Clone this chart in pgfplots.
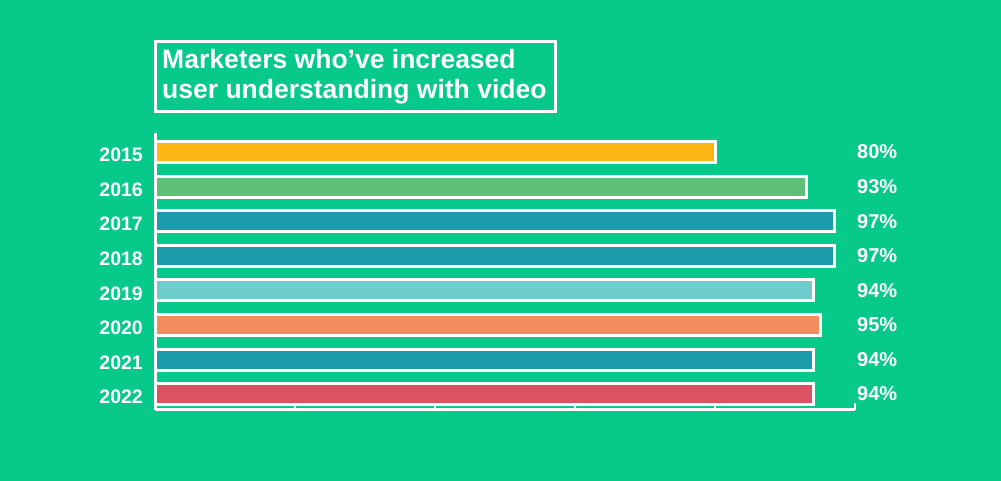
\documentclass[border=0pt]{standalone}
\usepackage{pgfplots}
\pgfplotsset{compat=1.18}
\usepackage{fontspec}
\setmainfont{Liberation Sans}
\definecolor{bgcol}{RGB}{6,201,138}
\definecolor{cyel}{RGB}{253,183,20}
\definecolor{cgrn}{RGB}{96,191,118}
\definecolor{cteal}{RGB}{27,155,170}
\definecolor{clteal}{RGB}{110,204,204}
\definecolor{corg}{RGB}{242,140,92}
\definecolor{cred}{RGB}{219,82,99}
\begin{document}
\begin{tikzpicture}
\fill[bgcol] (0pt,0pt) rectangle (1001pt,481pt);
\useasboundingbox (0pt,0pt) rectangle (1001pt,481pt);
\draw[white, line width=3pt] (155.5pt,439.5pt) rectangle (555.5pt,369.5pt);
\node[anchor=base west, inner sep=0pt, white, font=\fontsize{26.5}{30}\selectfont\bfseries] at (162pt,412pt) {Marketers who’ve increased};
\node[anchor=base west, inner sep=0pt, white, font=\fontsize{26.5}{30}\selectfont\bfseries] at (162pt,382pt) {user understanding with video};
\begin{axis}[
  at={(155pt,71pt)}, anchor=south west,
  width=700pt, height=277pt, scale only axis,
  xmin=0, xmax=100, ymin=-0.46, ymax=7.55,
  axis x line*=bottom, axis y line*=left,
  axis line style={white, line width=3pt, -},
  xtick={20,40,60,80,100}, xticklabels={},
  tick align=inside, major tick length=7pt,
  x tick style={white, line width=2.5pt},
  ytick={0,1,2,3,4,5,6,7},
  yticklabels={2022,2021,2020,2019,2018,2017,2016,2015},
  y tick style={draw=none},
  yticklabel style={font=\fontsize{19.5}{20}\selectfont\bfseries, text=white, inner sep=0pt, anchor=east, xshift=-12pt, yshift=-3pt},
  bar width=21pt,
  clip=false,
]
\addplot[xbar, bar shift=0pt, fill=cyel, draw=white, line width=3pt] coordinates {(80,7)};
\addplot[xbar, bar shift=0pt, fill=cgrn, draw=white, line width=3pt] coordinates {(93,6)};
\addplot[xbar, bar shift=0pt, fill=cteal, draw=white, line width=3pt] coordinates {(97,5)};
\addplot[xbar, bar shift=0pt, fill=cteal, draw=white, line width=3pt] coordinates {(97,4)};
\addplot[xbar, bar shift=0pt, fill=clteal, draw=white, line width=3pt] coordinates {(94,3)};
\addplot[xbar, bar shift=0pt, fill=corg, draw=white, line width=3pt] coordinates {(95,2)};
\addplot[xbar, bar shift=0pt, fill=cteal, draw=white, line width=3pt] coordinates {(94,1)};
\addplot[xbar, bar shift=0pt, fill=cred, draw=white, line width=3pt] coordinates {(94,0)};
\addplot[only marks, mark=none, nodes near coords, point meta=explicit symbolic,
  nodes near coords style={anchor=west, text=white, inner sep=0pt, xshift=2pt, font=\fontsize{20}{20}\selectfont\bfseries}]
  coordinates {(100,7) [80\%] (100,6) [93\%] (100,5) [97\%] (100,4) [97\%] (100,3) [94\%] (100,2) [95\%] (100,1) [94\%] (100,0) [94\%]};
\end{axis}
\end{tikzpicture}
\end{document}
